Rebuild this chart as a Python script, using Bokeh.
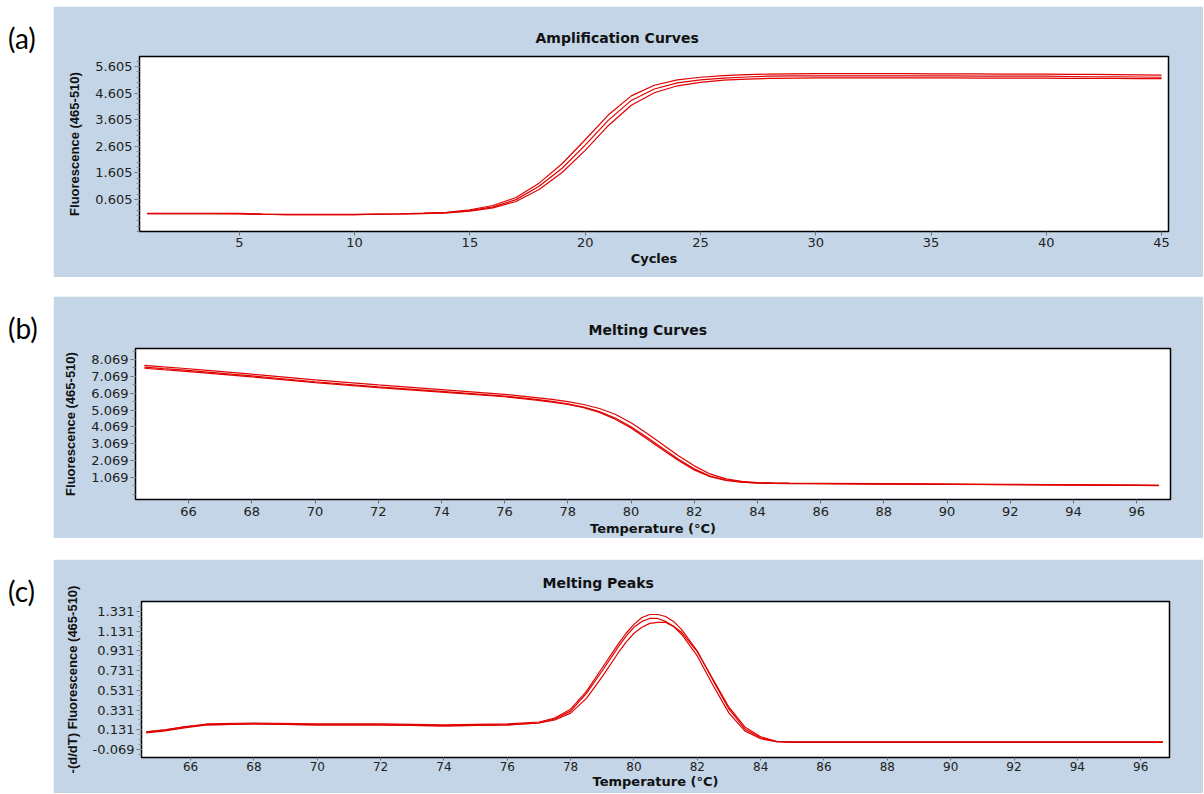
import numpy as np
from bokeh.plotting import figure
from bokeh.models import Range1d, FixedTicker, Spacer, PrintfTickFormatter, Div
from bokeh.layouts import column, row
from bokeh.embed import file_html
from bokeh.resources import INLINE

# ---------------- data ----------------
cycles = list(range(1, 46))
amp_1 = [0.08, 0.08, 0.08, 0.08, 0.08, 0.06, 0.05, 0.05, 0.05, 0.05, 0.06, 0.07, 0.09,
         0.12, 0.22, 0.38, 0.68, 1.22, 1.95, 2.85, 3.78, 4.50, 4.90, 5.10, 5.20, 5.26,
         5.30, 5.32, 5.33, 5.34, 5.34, 5.34, 5.34, 5.34, 5.33, 5.33, 5.33, 5.32, 5.32,
         5.32, 5.31, 5.31, 5.30, 5.29, 5.28]
amp_2 = [0.07, 0.07, 0.07, 0.07, 0.07, 0.05, 0.04, 0.04, 0.04, 0.04, 0.05, 0.06, 0.08,
         0.11, 0.19, 0.33, 0.60, 1.10, 1.78, 2.65, 3.58, 4.33, 4.76, 4.99, 5.10, 5.17,
         5.21, 5.24, 5.25, 5.25, 5.25, 5.25, 5.25, 5.25, 5.25, 5.25, 5.24, 5.24, 5.24,
         5.24, 5.23, 5.22, 5.22, 5.21, 5.20]
amp_3 = [0.07, 0.07, 0.07, 0.07, 0.06, 0.05, 0.04, 0.04, 0.04, 0.04, 0.05, 0.06, 0.07,
         0.10, 0.17, 0.29, 0.53, 0.98, 1.62, 2.45, 3.38, 4.15, 4.62, 4.88, 5.01, 5.09,
         5.13, 5.16, 5.17, 5.18, 5.18, 5.18, 5.18, 5.18, 5.18, 5.18, 5.17, 5.17, 5.17,
         5.17, 5.16, 5.16, 5.16, 5.15, 5.15]

melt_temps = [64.6, 65.2, 65.8, 66.5, 68, 70, 72, 74, 76,
              77, 77.5, 78, 78.5, 79, 79.5, 80, 80.5, 81, 81.5, 82, 82.5, 83, 83.5, 84, 84.5, 85,
              86, 88, 90, 92, 94, 96, 96.7]
melt_1 = [7.72, 7.63, 7.55, 7.44, 7.20, 6.86, 6.56, 6.28, 6.00,
          5.81, 5.70, 5.57, 5.40, 5.16, 4.82, 4.32, 3.70, 3.03, 2.36, 1.76, 1.28, 0.99, 0.84, 0.77, 0.74, 0.73,
          0.72, 0.70, 0.68, 0.66, 0.64, 0.62, 0.61]
melt_2 = [7.62, 7.53, 7.45, 7.34, 7.10, 6.75, 6.45, 6.18, 5.90,
          5.70, 5.58, 5.44, 5.25, 4.98, 4.60, 4.08, 3.45, 2.80, 2.15, 1.58, 1.16, 0.92, 0.80, 0.75, 0.73, 0.72,
          0.71, 0.69, 0.67, 0.65, 0.63, 0.61, 0.60]
melt_3 = [7.55, 7.46, 7.38, 7.27, 7.04, 6.70, 6.40, 6.13, 5.86,
          5.66, 5.54, 5.40, 5.21, 4.93, 4.53, 4.00, 3.37, 2.72, 2.08, 1.52, 1.12, 0.90, 0.79, 0.74, 0.72, 0.71,
          0.70, 0.68, 0.66, 0.64, 0.62, 0.60, 0.59]

peak_temps = [64.6, 65.2, 65.8, 66.5, 68, 70, 72, 74, 76,
              77, 77.5, 78, 78.5, 79, 79.5,
              79.75, 80, 80.25, 80.5, 80.75, 81, 81.25, 81.5,
              82, 82.5, 83, 83.5, 84, 84.5, 85,
              86, 88, 90, 92, 94, 96, 96.7]
peak_1 = [0.11, 0.13, 0.16, 0.19, 0.20, 0.19, 0.19, 0.18, 0.19,
          0.21, 0.25, 0.34, 0.52, 0.76, 1.00,
          1.11, 1.20, 1.27, 1.30, 1.30, 1.28, 1.23, 1.15,
          0.93, 0.63, 0.34, 0.14, 0.05, 0.01, 0.005,
          0.005, 0.005, 0.005, 0.005, 0.005, 0.005, 0.005]
peak_2 = [0.11, 0.13, 0.16, 0.18, 0.19, 0.18, 0.18, 0.17, 0.18,
          0.20, 0.24, 0.32, 0.50, 0.73, 0.97,
          1.08, 1.17, 1.23, 1.26, 1.26, 1.23, 1.18, 1.10,
          0.88, 0.58, 0.30, 0.12, 0.04, 0.01, 0.005,
          0.005, 0.005, 0.005, 0.005, 0.005, 0.005, 0.005]
peak_3 = [0.10, 0.12, 0.15, 0.18, 0.19, 0.18, 0.18, 0.17, 0.18,
          0.20, 0.23, 0.30, 0.45, 0.67, 0.91,
          1.02, 1.11, 1.17, 1.21, 1.22, 1.22, 1.18, 1.12,
          0.92, 0.64, 0.36, 0.16, 0.06, 0.015, 0.005,
          0.005, 0.005, 0.005, 0.005, 0.005, 0.005, 0.005]

amp_xticks = [5, 10, 15, 20, 25, 30, 35, 40, 45]
amp_yticks = [0.605, 1.605, 2.605, 3.605, 4.605, 5.605]
temp_xticks = [66, 68, 70, 72, 74, 76, 78, 80, 82, 84, 86, 88, 90, 92, 94, 96]
melt_yticks = [1.069, 2.069, 3.069, 4.069, 5.069, 6.069, 7.069, 8.069]
peak_yticks = [-0.069, 0.131, 0.331, 0.531, 0.731, 0.931, 1.131, 1.331]

# ---------------- style ----------------
BLUE = "#c3d5e6"
RED = "#e00000"
TICK_FONT = "DejaVu Sans"
TITLE_FONT = "DejaVu Sans"
MAIN_W = 1150


def panel(height, xr, yr, xticks, yticks, yminor, xlabel, ylabel, title, title_offset,
          borders, xfont="13px", xtick_out=4, xstand=(1, 0)):
    left, right, top, bottom = borders
    p = figure(width=MAIN_W, height=height, output_backend="svg", toolbar_location=None,
               x_range=Range1d(*xr), y_range=Range1d(*yr),
               min_border_left=left, min_border_right=right,
               min_border_top=top, min_border_bottom=bottom)
    p.border_fill_color = BLUE
    p.background_fill_color = "white"
    p.outline_line_color = "black"
    p.outline_line_width = 1.5
    p.grid.visible = False

    p.title.text = title
    p.title.align = "left"
    p.title.offset = title_offset
    p.title.text_font = TITLE_FONT
    p.title.text_font_style = "bold"
    p.title.text_font_size = "14px"
    p.title.text_color = "#111111"
    p.title.standoff = 22

    p.xaxis.ticker = FixedTicker(ticks=xticks, minor_ticks=[])
    p.yaxis.ticker = FixedTicker(ticks=yticks, minor_ticks=yminor)
    p.xaxis.formatter = PrintfTickFormatter(format="%d")
    p.yaxis.formatter = PrintfTickFormatter(format="%.3f")
    for ax in (p.xaxis[0], p.yaxis[0]):
        ax.axis_line_color = None
        ax.major_tick_line_color = "#707070"
        ax.minor_tick_line_color = "#909090"
        ax.major_tick_in = 0
        ax.minor_tick_in = 0
        ax.major_label_text_font = TICK_FONT
        ax.major_label_text_font_size = "13px"
        ax.major_label_text_color = "#222222"
        ax.axis_label_text_font_style = "bold"
        ax.axis_label_text_font_size = "13px"
        ax.axis_label_text_color = "#111111"
    p.xaxis.major_label_text_font_size = xfont
    p.xaxis.major_tick_out = xtick_out
    p.xaxis.major_label_standoff = xstand[0]
    p.xaxis.axis_label_standoff = xstand[1]
    p.xaxis.axis_label_text_font = "DejaVu Sans"
    p.yaxis.major_tick_out = 5
    p.yaxis.minor_tick_out = 3
    p.yaxis.major_label_standoff = 2
    p.yaxis.axis_label_standoff = 10
    p.yaxis.axis_label_text_font = "Liberation Sans"
    p.xaxis.axis_label = xlabel
    p.yaxis.axis_label = ylabel
    return p


def tag(height, text, pad_top):
    return Div(text=text, width=53, height=height, margin=(0, 0, 0, 0),
               styles={"font-family": "Lato", "font-size": "28px", "line-height": "32px",
                       "padding-left": "8px", "padding-top": f"{pad_top}px",
                       "color": "black", "box-sizing": "border-box",
                       "background-color": "white"})


# (a) amplification
pa = panel(271, (0.67, 45.3), (-0.598, 5.981), amp_xticks, amp_yticks,
           [float(v) for v in np.round(np.arange(-0.595, 5.9, 0.2), 3)],
           "Cycles", "Fluorescence (465-510)", "Amplification Curves", 396,
           (86, 35, 50, 46), xstand=(2, 1))
for ys in (amp_3, amp_2, amp_1):
    pa.line(cycles, ys, line_color=RED, line_width=1.2)

# (b) melting curves
pb = panel(242, (64.32, 97.07), (-0.236, 8.721), temp_xticks, melt_yticks,
           [float(v) for v in np.round(np.arange(0.069, 8.6, 0.5), 3)],
           "Temperature (°C)", "Fluorescence (465-510)", "Melting Curves", 453,
           (82, 33, 52, 39), xstand=(3, 2))
for ys in (melt_3, melt_2, melt_1):
    pb.line(melt_temps, ys, line_color=RED, line_width=1.2)

# (c) melting peaks
pc = panel(234, (64.45, 96.91), (-0.150, 1.432), temp_xticks, peak_yticks,
           [float(v) for v in np.round(np.arange(-0.119, 1.42, 0.05), 3)],
           "Temperature (°C)", "-(d/dT) Fluorescence (465-510)", "Melting Peaks", 401,
           (88, 34, 42, 36), xfont="12px", xtick_out=3, xstand=(1, 0))
for ys in (peak_3, peak_2, peak_1):
    pc.line(peak_temps, ys, line_color=RED, line_width=1.2)

layout = column(
    Spacer(height=6, width=1203),
    row(tag(271, "(a)", 16), pa),
    Spacer(height=19, width=1203),
    row(tag(242, "(b)", 16), pb),
    Spacer(height=21, width=1203),
    row(tag(234, "(c)", 16), pc),
)

open("out.html", "w").write(file_html(layout, INLINE))
